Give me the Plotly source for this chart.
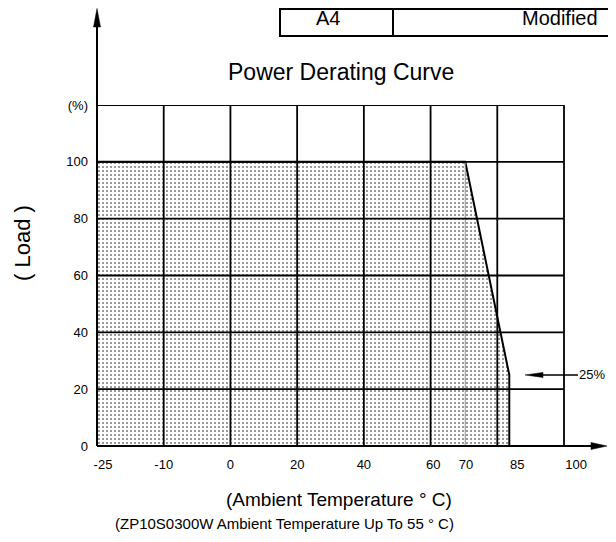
import numpy as np
import plotly.graph_objects as go

# ---------------- data ----------------
temp_ticks = [-25, -10, 0, 20, 40, 60, 70, 85, 100]
tick_labels = ["-25", "-10", "0", "20", "40", "60", "70", "85", "100"]
# where each temperature sits along the (schematic, non-linear) grid
tick_slots = [0, 1, 2, 3, 4, 5, 5.52, 6.18, 7]
load_ticks = [0, 20, 40, 60, 80, 100, 120]
load_labels = ["0", "20", "40", "60", "80", "100", "(%)"]

curve_temp = [-25, -25, 70, 85, 85, -25]
curve_load = [0, 100, 100, 25, 0, 0]
knee_temp = 70
knee_load = 100
end_load = 25

# ---------------- layout helpers ----------------
# the page body has an 8px margin; all pixel numbers below are window pixels
OFF = 8
W, H = 616, 542
GL, GR, T, B = 97, 564, 105, 446      # grid box in window pixels
PR = 616                              # right end of the plotting area
VIS_R = 607                           # last visible column
FONT = "Arial, 'Liberation Sans', Helvetica, sans-serif"
label_nudge = [0.09, 0, 0, 0, 0, 0.04, 0.01, 0.12, 0.18]
n_cols = 7
unit = (GR - GL) / n_cols
x_end = (PR - GL) / unit

fig_w = W - OFF
fig_h = H - 2 * OFF


def px(x):
    return (x - GL) / (PR - GL)


def py(y):
    return (B - y) / (B - T)


def to_slot(t):
    return np.interp(t, temp_ticks, tick_slots)


fig = go.Figure()

fig.add_trace(go.Scatter(
    x=to_slot(curve_temp), y=curve_load, mode="lines",
    line=dict(color="black", width=2),
    fill="toself", fillcolor="white",
    fillpattern=dict(shape=".", size=4, solidity=0.22,
                     fgcolor="black", bgcolor="white"),
    hoverinfo="skip", showlegend=False,
))
fig.add_trace(go.Scatter(
    x=to_slot([knee_temp, knee_temp]), y=[0, knee_load], mode="lines",
    line=dict(color="#8a8a8a", width=1), hoverinfo="skip", showlegend=False,
))

shapes = []
ymax = load_ticks[-1]
for c in range(n_cols + 1):
    shapes.append(dict(type="line", xref="x", yref="y", x0=c, x1=c, y0=0, y1=ymax,
                       line=dict(color="black", width=1.8), layer="above"))
for v in load_ticks:
    shapes.append(dict(type="line", xref="x", yref="y", x0=0, x1=n_cols, y0=v, y1=v,
                       line=dict(color="black", width=1.8), layer="above"))

# axis arrows
shapes.append(dict(type="line", xref="paper", yref="paper", x0=px(97), x1=px(97),
                   y0=py(446), y1=py(24), line=dict(color="black", width=2), layer="above"))
shapes.append(dict(type="path", xref="paper", yref="paper",
                   path=f"M {px(97)} {py(8.5)} L {px(93.5)} {py(27)} L {px(100.5)} {py(27)} Z",
                   fillcolor="black", line=dict(color="black", width=0.5), layer="above"))
shapes.append(dict(type="line", xref="paper", yref="paper", x0=px(97), x1=px(VIS_R - 12),
                   y0=py(446), y1=py(446), line=dict(color="black", width=2), layer="above"))
shapes.append(dict(type="path", xref="paper", yref="paper",
                   path=(f"M {px(VIS_R)} {py(446)} L {px(VIS_R - 16)} {py(442.5)} "
                         f"L {px(VIS_R - 16)} {py(449.5)} Z"),
                   fillcolor="black", line=dict(color="black", width=0.5), layer="above"))

# 25% pointer
y25 = B - end_load / ymax * (B - T)
shapes.append(dict(type="line", xref="paper", yref="y", x0=px(540), x1=px(578),
                   y0=end_load, y1=end_load, line=dict(color="black", width=1.5), layer="above"))
shapes.append(dict(type="path", xref="paper", yref="paper",
                   path=(f"M {px(525)} {py(y25)} "
                         f"L {px(543)} {py(y25 - 2.5)} "
                         f"L {px(543)} {py(y25 + 2.5)} Z"),
                   fillcolor="black", line=dict(color="black", width=0.5), layer="above"))

# header table
shapes.append(dict(type="rect", xref="paper", yref="paper", x0=px(280), x1=px(625),
                   y0=py(36), y1=py(9), line=dict(color="black", width=2)))
shapes.append(dict(type="line", xref="paper", yref="paper", x0=px(393), x1=px(393),
                   y0=py(36), y1=py(8), line=dict(color="black", width=2)))


def label(text, x, y, size, **kw):
    d = dict(text=text, x=px(x), y=py(y), xref="paper", yref="paper",
             xanchor="center", yanchor="middle", showarrow=False,
             font=dict(size=size, color="black", family=FONT))
    d.update(kw)
    return d


annotations = [
    label("Power Derating Curve", 341, 72, 23),
    label("A4", 328, 18, 20),
    label("Modified", 560, 18, 20),
    label("( Load )", 22, 243, 22, textangle=-90),
    label("(Ambient Temperature ° C)", 339, 499, 19),
    label("(ZP10S0300W Ambient Temperature Up To 55 ° C)", 284, 523, 15),
    dict(text="25%", x=px(VIS_R), y=end_load, xref="paper", yref="y",
         xanchor="right", yanchor="middle", showarrow=False,
         font=dict(size=13, color="black", family=FONT)),
]

fig.update_layout(
    width=fig_w, height=fig_h,
    margin=dict(l=GL - OFF, r=(fig_w + OFF) - PR, t=T - OFF, b=(fig_h + OFF) - B, pad=0),
    paper_bgcolor="white", plot_bgcolor="white",
    showlegend=False,
    shapes=shapes, annotations=annotations,
    xaxis=dict(range=[0, x_end], showgrid=False, zeroline=False, showline=False,
               tickmode="array",
               tickvals=[s + n for s, n in zip(tick_slots, label_nudge)],
               ticktext=tick_labels, ticks="", ticklabelstandoff=9,
               tickfont=dict(size=13, color="black", family=FONT), fixedrange=True),
    yaxis=dict(range=[0, ymax], showgrid=False, zeroline=False, showline=False,
               tickmode="array", tickvals=load_ticks, ticktext=load_labels,
               ticks="", ticklabelstandoff=8,
               tickfont=dict(size=13, color="black", family=FONT), fixedrange=True),
)

fig.write_html("out.html")
